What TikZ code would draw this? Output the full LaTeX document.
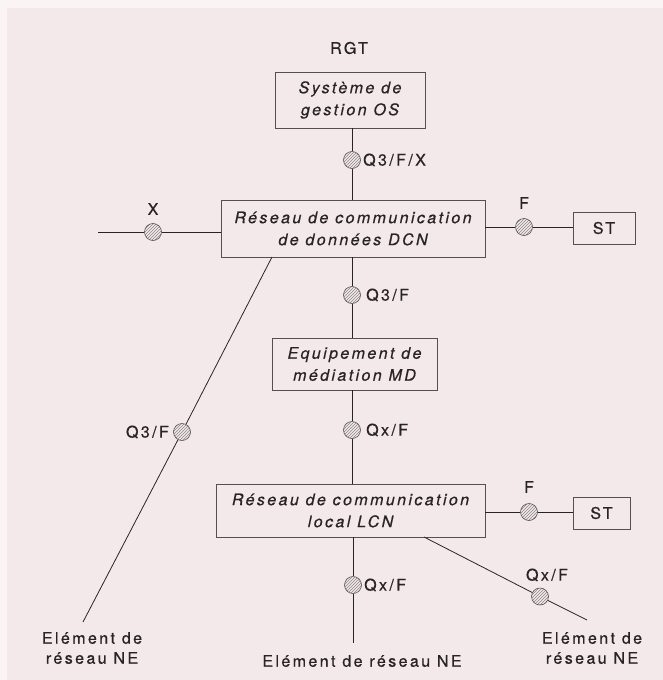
\documentclass[tikz,border=0pt]{standalone}
\usepackage{fontspec}
\setmainfont{TeX Gyre Heros}[LetterSpace=15, FakeBold=0.6]
\usetikzlibrary{patterns}
\definecolor{paper}{RGB}{244,233,234}
\definecolor{outer}{RGB}{250,244,245}
\definecolor{ink}{RGB}{40,36,38}
\tikzset{
  x=1pt, y=-1pt,
  every node/.style={font=\fontsize{16}{19}\selectfont, text=ink},
  box/.style={draw=ink!80, line width=0.6pt, align=center, inner sep=0pt, font=\fontsize{16}{22}\selectfont\itshape},
  stbox/.style={draw=ink!80, line width=0.6pt, inner sep=0pt, minimum height=32pt},
  iface/.style={circle, draw=ink!80, line width=0.6pt, minimum size=17pt, inner sep=0pt,
     pattern=north east lines, pattern color=ink!55},
  conn/.style={draw=ink, line width=0.8pt},
  lbl/.style={inner sep=0pt},
  nelbl/.style={inner sep=0pt, align=center, font=\fontsize{16}{20}\selectfont}
}
\begin{document}
\begin{tikzpicture}
\useasboundingbox (0,0) rectangle (663,680);
\fill[outer] (0,0) rectangle (663,680);
\fill[paper] (7,8) rectangle (663,680);

% boxes
\node[lbl] (rgt) at (349,48) {RGT};
\node[box, minimum width=150pt, minimum height=56pt] (os) at (350,100) {Système de\\gestion OS};
\node[box, minimum width=264pt, minimum height=57pt] (dcn) at (353,228.5) {Réseau de communication\\de données DCN};
\node[box, minimum width=165pt, minimum height=52pt] (md) at (354.5,364) {Equipement de\\médiation MD};
\node[box, minimum width=269pt, minimum height=53pt] (lcn) at (350.5,510.5) {Réseau de communication\\local LCN};
\node[stbox, minimum width=62pt] (st1) at (604,228) {ST};
\node[stbox, minimum width=57pt] (st2) at (601.5,513) {ST};

% interface points
\node[iface] (c1) at (352,160) {};
\node[iface] (cx) at (153,232) {};
\node[iface] (cf1) at (524,227) {};
\node[iface] (c2) at (352,295) {};
\node[iface] (c3) at (352,430) {};
\node[iface] (cf2) at (529,512) {};
\node[iface] (c4) at (353,585) {};
\node[iface] (cr) at (540,596.5) {};
\node[iface] (cl) at (182,432) {};

% free ends
\coordinate (xend) at (98,232);
\coordinate (nebot) at (353,643);
\coordinate (lstart) at (272,257);
\coordinate (lend) at (83,622);
\coordinate (rstart) at (424,537);
\coordinate (rend) at (587,620);

% connectors
\draw[conn] (c1 |- os.south) -- (c1) -- (c1 |- dcn.north);
\draw[conn] (xend) -- (cx) -- (cx -| dcn.west);
\draw[conn] (cf1 -| dcn.east) -- (cf1) -- (cf1 -| st1.west);
\draw[conn] (c2 |- dcn.south) -- (c2) -- (c2 |- md.north);
\draw[conn] (c3 |- md.south) -- (c3) -- (c3 |- lcn.north);
\draw[conn] (cf2 -| lcn.east) -- (cf2) -- (cf2 -| st2.west);
\draw[conn] (c4 |- lcn.south) -- (c4) -- (nebot);
\draw[conn] (lstart) -- (cl) -- (lend);
\draw[conn] (rstart) -- (cr) -- (rend);

% labels
\node[lbl, anchor=west] at (363,160) {Q3/F/X};
\node[lbl] at (153,209) {X};
\node[lbl] at (524,203) {F};
\node[lbl, anchor=west] at (366,295) {Q3/F};
\node[lbl, anchor=west] at (366,430) {Qx/F};
\node[lbl] at (529,487) {F};
\node[lbl, anchor=west] at (364,585) {Qx/F};
\node[lbl] at (547,575) {Qx/F};
\node[lbl, anchor=east] at (169,432) {Q3/F};
\node[nelbl] (ne1) at (92,648) {Elément de\\réseau NE};
\node[lbl] (ne2) at (362,661) {Elément de réseau NE};
\node[nelbl] (ne3) at (592,648) {Elément de\\réseau NE};
\end{tikzpicture}
\end{document}
